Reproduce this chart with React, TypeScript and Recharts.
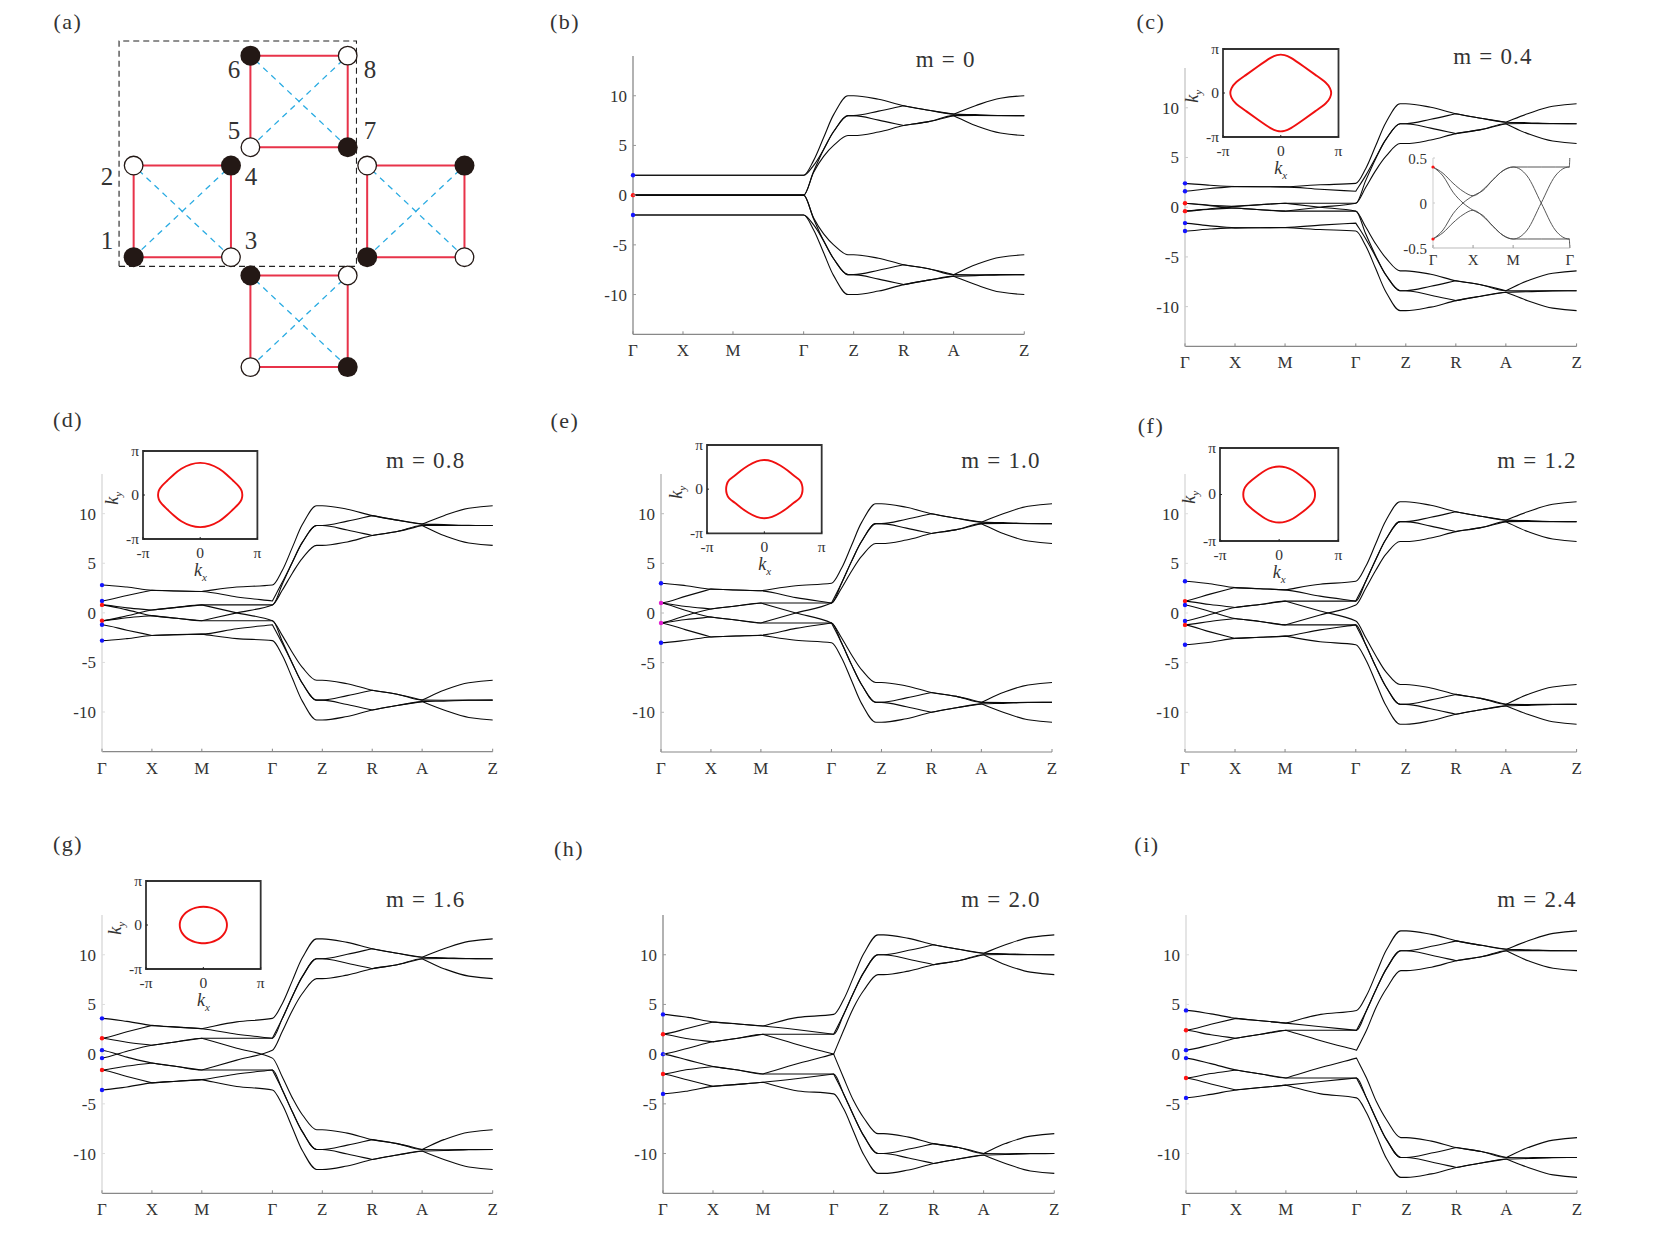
import React from "react";
import {
  ComposedChart,
  Line,
  XAxis,
  YAxis,
  ReferenceDot,
  ReferenceArea,
  ScatterChart,
  Scatter,
} from "recharts";

const FONT = '"Liberation Serif", serif';
const TEXT = "#333";
const BLUE = "#1414ff";
const RED = "#ff1414";
const MAGENTA = "#e020d0";

// high symmetry path
const pathTicks = [0, 1, 2, 3.414, 4.414, 5.414, 6.414, 7.828];
const pathLabels = ["Γ", "X", "M", "Γ", "Z", "R", "A", "Z"];
const energyTicks = [-10, -5, 0, 5, 10];

const kPath = [0, 0.5, 1, 1.5, 2, 2.7, 3.414, 3.614, 3.814, 4.014, 4.3, 4.414, 4.914, 5.414, 5.914, 6.414, 6.85, 7.35, 7.828];

const bandsB = [
  [2, 2, 2, 2, 2, 2, 2, 3.5, 5.8, 8.1, 10, 10, 9.65, 9, 8.55, 8.15, 9, 9.75, 10],
  [2, 2, 2, 2, 2, 2, 2, 3, 4.6, 6.4, 8, 8, 8.45, 9, 8.55, 8.15, 8.1, 8.02, 8],
  [0, 0, 0, 0, 0, 0, 0, 2.4, 4.6, 6.4, 8, 8, 7.55, 7, 7.4, 8, 8.02, 8, 8],
  [0, 0, 0, 0, 0, 0, 0, 2.3, 3.9, 5, 6, 6, 6.35, 7, 7.4, 8, 7, 6.25, 6],
  [0, 0, 0, 0, 0, 0, 0, -2.3, -3.9, -5, -6, -6, -6.35, -7, -7.4, -8, -7, -6.25, -6],
  [0, 0, 0, 0, 0, 0, 0, -2.4, -4.6, -6.4, -8, -8, -7.55, -7, -7.4, -8, -8.02, -8, -8],
  [-2, -2, -2, -2, -2, -2, -2, -3, -4.6, -6.4, -8, -8, -8.45, -9, -8.55, -8.15, -8.1, -8.02, -8],
  [-2, -2, -2, -2, -2, -2, -2, -3.5, -5.8, -8.1, -10, -10, -9.65, -9, -8.55, -8.15, -9, -9.75, -10],
];

const bandsC = [
  [2.4, 2.2, 2.08, 2.06, 2.04, 2.25, 2.4, 3.9, 6.2, 8.5, 10.4, 10.4, 10.05, 9.4, 8.95, 8.55, 9.4, 10.15, 10.4],
  [1.6, 1.88, 2.08, 2.06, 2.04, 1.8, 1.6, 3.2, 5, 6.8, 8.4, 8.4, 8.85, 9.4, 8.95, 8.55, 8.5, 8.42, 8.4],
  [0.4, 0.2, 0.08, 0.25, 0.4, 0.4, 0.4, 2.7, 4.9, 6.8, 8.4, 8.4, 7.95, 7.4, 7.8, 8.4, 8.42, 8.4, 8.4],
  [0.4, 0.15, -0.08, -0.25, -0.4, 0, 0.4, 2, 3.7, 5.1, 6.4, 6.4, 6.75, 7.4, 7.8, 8.4, 7.4, 6.65, 6.4],
  [-0.4, -0.15, 0.08, 0.25, 0.4, 0, -0.4, -2, -3.7, -5.1, -6.4, -6.4, -6.75, -7.4, -7.8, -8.4, -7.4, -6.65, -6.4],
  [-0.4, -0.2, -0.08, -0.25, -0.4, -0.4, -0.4, -2.7, -4.9, -6.8, -8.4, -8.4, -7.95, -7.4, -7.8, -8.4, -8.42, -8.4, -8.4],
  [-1.6, -1.88, -2.08, -2.06, -2.04, -1.8, -1.6, -3.2, -5, -6.8, -8.4, -8.4, -8.85, -9.4, -8.95, -8.55, -8.5, -8.42, -8.4],
  [-2.4, -2.2, -2.08, -2.06, -2.04, -2.25, -2.4, -3.9, -6.2, -8.5, -10.4, -10.4, -10.05, -9.4, -8.95, -8.55, -9.4, -10.15, -10.4],
];

const bandsD = [
  [2.8, 2.6, 2.28, 2.2, 2.15, 2.6, 2.8, 4.3, 6.6, 8.9, 10.8, 10.8, 10.45, 9.8, 9.35, 8.95, 9.8, 10.55, 10.8],
  [1.2, 1.75, 2.28, 2.2, 2.15, 1.6, 1.2, 3.1, 5.1, 7.1, 8.8, 8.8, 9.25, 9.8, 9.35, 8.95, 8.9, 8.82, 8.8],
  [0.8, 0.5, 0.28, 0.55, 0.8, 0.8, 0.8, 2.9, 5.1, 7.1, 8.8, 8.8, 8.35, 7.8, 8.2, 8.8, 8.82, 8.8, 8.8],
  [0.8, 0.3, -0.28, -0.55, -0.8, 0, 0.8, 2.3, 4, 5.5, 6.8, 6.8, 7.15, 7.8, 8.2, 8.8, 7.8, 7.05, 6.8],
  [-0.8, -0.3, 0.28, 0.55, 0.8, 0, -0.8, -2.3, -4, -5.5, -6.8, -6.8, -7.15, -7.8, -8.2, -8.8, -7.8, -7.05, -6.8],
  [-0.8, -0.5, -0.28, -0.55, -0.8, -0.8, -0.8, -2.9, -5.1, -7.1, -8.8, -8.8, -8.35, -7.8, -8.2, -8.8, -8.82, -8.8, -8.8],
  [-1.2, -1.75, -2.28, -2.2, -2.15, -1.6, -1.2, -3.1, -5.1, -7.1, -8.8, -8.8, -9.25, -9.8, -9.35, -8.95, -8.9, -8.82, -8.8],
  [-2.8, -2.6, -2.28, -2.2, -2.15, -2.6, -2.8, -4.3, -6.6, -8.9, -10.8, -10.8, -10.45, -9.8, -9.35, -8.95, -9.8, -10.55, -10.8],
];

const bandsE = [
  [3, 2.75, 2.41, 2.32, 2.24, 2.75, 3, 4.5, 6.8, 9.1, 11, 11, 10.65, 10, 9.55, 9.15, 10, 10.75, 11],
  [1, 1.7, 2.41, 2.32, 2.24, 1.55, 1, 3, 5.2, 7.2, 9, 9, 9.45, 10, 9.55, 9.15, 9.1, 9.02, 9],
  [1, 0.65, 0.41, 0.7, 1, 1, 1, 3, 5.2, 7.2, 9, 9, 8.55, 8, 8.4, 9, 9.02, 9, 9],
  [1, 0.25, -0.41, -0.7, -1, 0, 1, 2.5, 4.2, 5.7, 7, 7, 7.35, 8, 8.4, 9, 8, 7.25, 7],
  [-1, -0.25, 0.41, 0.7, 1, 0, -1, -2.5, -4.2, -5.7, -7, -7, -7.35, -8, -8.4, -9, -8, -7.25, -7],
  [-1, -0.65, -0.41, -0.7, -1, -1, -1, -3, -5.2, -7.2, -9, -9, -8.55, -8, -8.4, -9, -9.02, -9, -9],
  [-1, -1.7, -2.41, -2.32, -2.24, -1.55, -1, -3, -5.2, -7.2, -9, -9, -9.45, -10, -9.55, -9.15, -9.1, -9.02, -9],
  [-3, -2.75, -2.41, -2.32, -2.24, -2.75, -3, -4.5, -6.8, -9.1, -11, -11, -10.65, -10, -9.55, -9.15, -10, -10.75, -11],
];

const bandsF = [
  [3.2, 2.95, 2.56, 2.45, 2.33, 2.9, 3.2, 4.7, 7, 9.3, 11.2, 11.2, 10.85, 10.2, 9.75, 9.35, 10.2, 10.95, 11.2],
  [1.2, 1.9, 2.56, 2.45, 2.33, 1.7, 1.2, 3.2, 5.4, 7.4, 9.2, 9.2, 9.65, 10.2, 9.75, 9.35, 9.3, 9.22, 9.2],
  [1.2, 0.85, 0.56, 0.85, 1.2, 1.2, 1.2, 3.2, 5.4, 7.4, 9.2, 9.2, 8.75, 8.2, 8.6, 9.2, 9.22, 9.2, 9.2],
  [0.8, 0.15, -0.56, -0.85, -1.2, -0.2, 0.8, 2.5, 4.3, 5.9, 7.2, 7.2, 7.55, 8.2, 8.6, 9.2, 8.2, 7.45, 7.2],
  [-0.8, -0.15, 0.56, 0.85, 1.2, 0.2, -0.8, -2.5, -4.3, -5.9, -7.2, -7.2, -7.55, -8.2, -8.6, -9.2, -8.2, -7.45, -7.2],
  [-1.2, -0.85, -0.56, -0.85, -1.2, -1.2, -1.2, -3.2, -5.4, -7.4, -9.2, -9.2, -8.75, -8.2, -8.6, -9.2, -9.22, -9.2, -9.2],
  [-1.2, -1.9, -2.56, -2.45, -2.33, -1.7, -1.2, -3.2, -5.4, -7.4, -9.2, -9.2, -9.65, -10.2, -9.75, -9.35, -9.3, -9.22, -9.2],
  [-3.2, -2.95, -2.56, -2.45, -2.33, -2.9, -3.2, -4.7, -7, -9.3, -11.2, -11.2, -10.85, -10.2, -9.75, -9.35, -10.2, -10.95, -11.2],
];

const bandsG = [
  [3.6, 3.3, 2.89, 2.72, 2.56, 3.25, 3.6, 5.1, 7.4, 9.7, 11.6, 11.6, 11.25, 10.6, 10.15, 9.75, 10.6, 11.35, 11.6],
  [1.6, 2.25, 2.89, 2.72, 2.56, 2, 1.6, 3.6, 5.8, 7.8, 9.6, 9.6, 10.05, 10.6, 10.15, 9.75, 9.7, 9.62, 9.6],
  [1.6, 1.2, 0.89, 1.25, 1.6, 1.6, 1.6, 3.6, 5.8, 7.8, 9.6, 9.6, 9.15, 8.6, 9, 9.6, 9.62, 9.6, 9.6],
  [0.4, -0.3, -0.89, -1.25, -1.6, -0.6, 0.4, 2.3, 4.4, 6.1, 7.6, 7.6, 7.95, 8.6, 9, 9.6, 8.6, 7.85, 7.6],
  [-0.4, 0.3, 0.89, 1.25, 1.6, 0.6, -0.4, -2.3, -4.4, -6.1, -7.6, -7.6, -7.95, -8.6, -9, -9.6, -8.6, -7.85, -7.6],
  [-1.6, -1.2, -0.89, -1.25, -1.6, -1.6, -1.6, -3.6, -5.8, -7.8, -9.6, -9.6, -9.15, -8.6, -9, -9.6, -9.62, -9.6, -9.6],
  [-1.6, -2.25, -2.89, -2.72, -2.56, -2, -1.6, -3.6, -5.8, -7.8, -9.6, -9.6, -10.05, -10.6, -10.15, -9.75, -9.7, -9.62, -9.6],
  [-3.6, -3.3, -2.89, -2.72, -2.56, -3.25, -3.6, -5.1, -7.4, -9.7, -11.6, -11.6, -11.25, -10.6, -10.15, -9.75, -10.6, -11.35, -11.6],
];

const bandsH = [
  [4, 3.7, 3.24, 3.04, 2.83, 3.7, 4, 5.5, 7.8, 10.1, 12, 12, 11.65, 11, 10.55, 10.15, 11, 11.75, 12],
  [2, 2.6, 3.24, 3.04, 2.83, 2.45, 2, 4, 6.2, 8.2, 10, 10, 10.45, 11, 10.55, 10.15, 10.1, 10.02, 10],
  [2, 1.55, 1.24, 1.6, 2, 2, 2, 4, 6.2, 8.2, 10, 10, 9.55, 9, 9.4, 10, 10.02, 10, 10],
  [0, 0.6, 1.24, 1.6, 2, 0.95, 0, 2.4, 4.7, 6.4, 8, 8, 8.35, 9, 9.4, 10, 9, 8.25, 8],
  [0, -0.6, -1.24, -1.6, -2, -0.95, 0, -2.4, -4.7, -6.4, -8, -8, -8.35, -9, -9.4, -10, -9, -8.25, -8],
  [-2, -1.55, -1.24, -1.6, -2, -2, -2, -4, -6.2, -8.2, -10, -10, -9.55, -9, -9.4, -10, -10.02, -10, -10],
  [-2, -2.6, -3.24, -3.04, -2.83, -2.45, -2, -4, -6.2, -8.2, -10, -10, -10.45, -11, -10.55, -10.15, -10.1, -10.02, -10],
  [-4, -3.7, -3.24, -3.04, -2.83, -3.7, -4, -5.5, -7.8, -10.1, -12, -12, -11.65, -11, -10.55, -10.15, -11, -11.75, -12],
];

const bandsI = [
  [4.4, 4.05, 3.6, 3.36, 3.12, 4, 4.4, 5.9, 8.2, 10.5, 12.4, 12.4, 12.05, 11.4, 10.95, 10.55, 11.4, 12.15, 12.4],
  [2.4, 3, 3.6, 3.36, 3.12, 2.75, 2.4, 4.4, 6.6, 8.6, 10.4, 10.4, 10.85, 11.4, 10.95, 10.55, 10.5, 10.42, 10.4],
  [2.4, 1.95, 1.6, 2, 2.4, 2.4, 2.4, 4.4, 6.6, 8.6, 10.4, 10.4, 9.95, 9.4, 9.8, 10.4, 10.42, 10.4, 10.4],
  [0.4, 0.95, 1.6, 2, 2.4, 1.35, 0.4, 2.4, 4.8, 6.6, 8.4, 8.4, 8.75, 9.4, 9.8, 10.4, 9.4, 8.65, 8.4],
  [-0.4, -0.95, -1.6, -2, -2.4, -1.35, -0.4, -2.4, -4.8, -6.6, -8.4, -8.4, -8.75, -9.4, -9.8, -10.4, -9.4, -8.65, -8.4],
  [-2.4, -1.95, -1.6, -2, -2.4, -2.4, -2.4, -4.4, -6.6, -8.6, -10.4, -10.4, -9.95, -9.4, -9.8, -10.4, -10.42, -10.4, -10.4],
  [-2.4, -3, -3.6, -3.36, -3.12, -2.75, -2.4, -4.4, -6.6, -8.6, -10.4, -10.4, -10.85, -11.4, -10.95, -10.55, -10.5, -10.42, -10.4],
  [-4.4, -4.05, -3.6, -3.36, -3.12, -4, -4.4, -5.9, -8.2, -10.5, -12.4, -12.4, -12.05, -11.4, -10.95, -10.55, -11.4, -12.15, -12.4],
];

// gamma point markers
const dotsB = [[2, BLUE], [0, RED], [-2, BLUE]];
const dotsC = [[2.4, BLUE], [1.6, BLUE], [0.4, RED], [-0.4, RED], [-1.6, BLUE], [-2.4, BLUE]];
const dotsD = [[2.8, BLUE], [1.2, BLUE], [0.8, RED], [-0.8, RED], [-1.2, BLUE], [-2.8, BLUE]];
const dotsE = [[3, BLUE], [1, MAGENTA], [-1, MAGENTA], [-3, BLUE]];
const dotsF = [[3.2, BLUE], [1.2, RED], [0.8, BLUE], [-0.8, BLUE], [-1.2, RED], [-3.2, BLUE]];
const dotsG = [[3.6, BLUE], [1.6, RED], [0.4, BLUE], [-0.4, BLUE], [-1.6, RED], [-3.6, BLUE]];
const dotsH = [[4, BLUE], [2, RED], [0, BLUE], [-2, RED], [-4, BLUE]];
const dotsI = [[4.4, BLUE], [2.4, RED], [0.4, BLUE], [-0.4, BLUE], [-2.4, RED], [-4.4, BLUE]];

// zoom of panel c, low energy part
const zoomPath = [0, 0.25, 0.5, 0.75, 1, 1.25, 1.5, 1.75, 2, 2.35, 2.7, 3.05, 3.4, 3.414];
const zoomBands = [
  [0.4, 0.33, 0.22, 0.13, 0.08, 0.15, 0.26, 0.36, 0.4, 0.4, 0.4, 0.4, 0.4, 0.5],
  [0.4, 0.3, 0.12, 0, -0.08, -0.14, -0.26, -0.36, -0.4, -0.3, 0, 0.3, 0.4, 0.4],
  [-0.4, -0.3, -0.12, 0, 0.08, 0.14, 0.26, 0.36, 0.4, 0.3, 0, -0.3, -0.4, -0.4],
  [-0.4, -0.33, -0.22, -0.13, -0.08, -0.15, -0.26, -0.36, -0.4, -0.4, -0.4, -0.4, -0.4, -0.5],
];

// Fermi loops, in units of pi
const loopCx = [0.88, 0.86, 0.8, 0.6, 0.4, 0.15, 0.06, 0, -0.06, -0.15, -0.4, -0.6, -0.8, -0.86, -0.88, -0.86, -0.8, -0.6, -0.4, -0.15, -0.06, 0, 0.06, 0.15, 0.4, 0.6, 0.8, 0.86];
const loopCy = [0, 0.1, 0.23, 0.41, 0.6, 0.83, 0.865, 0.875, 0.865, 0.83, 0.6, 0.41, 0.23, 0.1, 0, -0.1, -0.23, -0.41, -0.6, -0.83, -0.865, -0.875, -0.865, -0.83, -0.6, -0.41, -0.23, -0.1];
const loopDx = [0.74, 0.73, 0.68, 0.58, 0.46, 0.34, 0.16, 0, -0.16, -0.34, -0.46, -0.58, -0.68, -0.73, -0.74, -0.73, -0.68, -0.58, -0.46, -0.34, -0.16, 0, 0.16, 0.34, 0.46, 0.58, 0.68, 0.73];
const loopDy = [0, 0.1, 0.2, 0.32, 0.47, 0.6, 0.71, 0.74, 0.71, 0.6, 0.47, 0.32, 0.2, 0.1, 0, -0.1, -0.2, -0.32, -0.47, -0.6, -0.71, -0.74, -0.71, -0.6, -0.47, -0.32, -0.2, -0.1];
const loopEx = [0.67, 0.66, 0.625, 0.51, 0.42, 0.28, 0.13, 0, -0.13, -0.28, -0.42, -0.51, -0.625, -0.66, -0.67, -0.66, -0.625, -0.51, -0.42, -0.28, -0.13, 0, 0.13, 0.28, 0.42, 0.51, 0.625, 0.66];
const loopEy = [0, 0.1, 0.21, 0.31, 0.41, 0.54, 0.64, 0.67, 0.64, 0.54, 0.41, 0.31, 0.21, 0.1, 0, -0.1, -0.21, -0.31, -0.41, -0.54, -0.64, -0.67, -0.64, -0.54, -0.41, -0.31, -0.21, -0.1];
const loopFx = [0.61, 0.6, 0.56, 0.46, 0.35, 0.23, 0.11, 0, -0.11, -0.23, -0.35, -0.46, -0.56, -0.6, -0.61, -0.6, -0.56, -0.46, -0.35, -0.23, -0.11, 0, 0.11, 0.23, 0.35, 0.46, 0.56, 0.6];
const loopFy = [0, 0.1, 0.2, 0.31, 0.42, 0.53, 0.59, 0.61, 0.59, 0.53, 0.42, 0.31, 0.2, 0.1, 0, -0.1, -0.2, -0.31, -0.42, -0.53, -0.59, -0.61, -0.59, -0.53, -0.42, -0.31, -0.2, -0.1];
const loopGx = [0.415, 0.405, 0.37, 0.31, 0.23, 0.14, 0.06, 0, -0.06, -0.14, -0.23, -0.31, -0.37, -0.405, -0.415, -0.405, -0.37, -0.31, -0.23, -0.14, -0.06, 0, 0.06, 0.14, 0.23, 0.31, 0.37, 0.405];
const loopGy = [0, 0.1, 0.19, 0.28, 0.35, 0.395, 0.412, 0.417, 0.412, 0.395, 0.35, 0.28, 0.19, 0.1, 0, -0.1, -0.19, -0.28, -0.35, -0.395, -0.412, -0.417, -0.412, -0.395, -0.35, -0.28, -0.19, -0.1];

// lattice of panel a, in site-spacing units
const plaquetteX = [0, 1.2, 2.4, 1.2];
const plaquetteY = [0, 1.2, 0, -1.2];
const plaquetteFilledFirst = [true, false, true, false];
const cellX = [-0.15, 2.29, 2.29, -0.15, -0.15];
const cellY = [-0.1, -0.1, 2.36, 2.36, -0.1];
const siteNumbers = [
  ["1", 107, 241], ["2", 107, 177], ["3", 251, 241], ["4", 251, 177],
  ["5", 234, 131], ["6", 234, 70], ["7", 370, 131], ["8", 370, 70],
];

const panelLetters = [
  ["(a)", 68, 22], ["(b)", 565, 22], ["(c)", 1151, 22], ["(d)", 68, 420],
  ["(e)", 565, 421], ["(f)", 1151, 426], ["(g)", 68, 844], ["(h)", 569, 849], ["(i)", 1147, 845],
];

const panels = [
  { left: 632.7, top: 56, width: 391.3, height: 278.3, bands: bandsB, dots: dotsB, title: "m = 0", tx: 945.7, ty: 60, yColor: "#999" },
  { left: 1185.4, top: 68.3, width: 391.6, height: 278.4, bands: bandsC, dots: dotsC, title: "m = 0.4", tx: 1493, ty: 57, yColor: "#ccc" },
  { left: 102, top: 474, width: 390.7, height: 277.7, bands: bandsD, dots: dotsD, title: "m = 0.8", tx: 425.7, ty: 460.7, yColor: "#ddd" },
  { left: 661, top: 473.5, width: 391, height: 278, bands: bandsE, dots: dotsE, title: "m = 1.0", tx: 1001, ty: 461, yColor: "#bbb" },
  { left: 1185.4, top: 473.5, width: 391.6, height: 278, bands: bandsF, dots: dotsF, title: "m = 1.2", tx: 1537, ty: 461, yColor: "#ddd" },
  { left: 102, top: 915, width: 390.7, height: 278.3, bands: bandsG, dots: dotsG, title: "m = 1.6", tx: 425.7, ty: 900, yColor: "#ddd" },
  { left: 663, top: 915, width: 391.3, height: 278.3, bands: bandsH, dots: dotsH, title: "m = 2.0", tx: 1001, ty: 900, yColor: "#999" },
  { left: 1185.7, top: 915, width: 391, height: 278.3, bands: bandsI, dots: dotsI, title: "m = 2.4", tx: 1537, ty: 900, yColor: "#ddd" },
];

const insets = [
  { left: 1223, top: 49.3, width: 115.5, height: 88, xs: loopCx, ys: loopCy },
  { left: 143.3, top: 451, width: 114.4, height: 88, xs: loopDx, ys: loopDy },
  { left: 707.3, top: 445, width: 114.7, height: 88.3, xs: loopEx, ys: loopEy },
  { left: 1220, top: 447.7, width: 118.3, height: 93, xs: loopFx, ys: loopFy },
  { left: 146, top: 881, width: 114.7, height: 88, xs: loopGx, ys: loopGy },
];

function toRows(xs, bands) {
  return xs.map((x, i) => {
    const row = { x };
    bands.forEach((band, b) => {
      row["b" + b] = band[i];
    });
    return row;
  });
}

// band crossings are sharp in the plots, monotone rounds them off, so keep the
// one-sided slopes at a turning point and smooth everything else
function creasedCurve(context) {
  let pts = [];
  const secant = (a, b) => (b[1] - a[1]) / (b[0] - a[0]);
  return {
    areaStart() {},
    areaEnd() {},
    lineStart() {
      pts = [];
    },
    point(x, y) {
      pts.push([+x, +y]);
    },
    lineEnd() {
      const n = pts.length;
      if (!n) return;
      context.moveTo(pts[0][0], pts[0][1]);
      for (let i = 0; i < n - 1; i++) {
        const a = pts[i];
        const b = pts[i + 1];
        const s = secant(a, b);
        let t0 = s * 0.5;
        let t1 = s * 0.5;
        if (i > 0) {
          const prev = secant(pts[i - 1], a);
          t0 = prev * s > 0 ? (2 * prev * s) / (prev + s) : prev * s < 0 ? s : 0;
        }
        if (i < n - 2) {
          const next = secant(b, pts[i + 2]);
          t1 = next * s > 0 ? (2 * next * s) / (next + s) : next * s < 0 ? s : 0;
        }
        const h = (b[0] - a[0]) / 3;
        context.bezierCurveTo(a[0] + h, a[1] + h * t0, b[0] - h, b[1] - h * t1, b[0], b[1]);
      }
    },
  };
}

function EnergyTick({ x, y, payload, color, size = 17, tickLen = 3 }) {
  return (
    <g>
      <line x1={x} x2={x + tickLen} y1={y} y2={y} stroke={color} />
      <text x={x - 6} y={y} dy={6} textAnchor="end" fontFamily={FONT} fontSize={size} fill={TEXT}>
        {payload.value}
      </text>
    </g>
  );
}

function PathTick({ x, y, index, labels = pathLabels, size = 17, color = "#888", gap = 22 }) {
  return (
    <g>
      <line x1={x} x2={x} y1={y} y2={y - 3} stroke={color} />
      <text x={x} y={y + gap} textAnchor="middle" fontFamily={FONT} fontSize={size} fill={TEXT}>
        {labels[index]}
      </text>
    </g>
  );
}

function BandPanel({ p }) {
  const rows = toRows(kPath, p.bands);
  return (
    <div style={{ position: "absolute", left: p.left - 45, top: p.top - 5 }}>
      <ComposedChart width={p.width + 70} height={p.height + 40} data={rows} margin={{ top: 5, right: 25, bottom: 0, left: 0 }}>
        <XAxis
          dataKey="x"
          type="number"
          domain={[0, 7.828]}
          ticks={pathTicks}
          interval={0}
          height={35}
          tickSize={0}
          tickMargin={0}
          tickLine={false}
          axisLine={{ stroke: "#888", strokeWidth: 1.2 }}
          tick={<PathTick />}
        />
        <YAxis
          type="number"
          domain={[-14, 14]}
          ticks={energyTicks}
          interval={0}
          width={45}
          tickSize={0}
          tickMargin={0}
          tickLine={false}
          axisLine={{ stroke: p.yColor, strokeWidth: 1.5 }}
          tick={<EnergyTick color={p.yColor} />}
        />
        {p.bands.map((_, b) => (
          <Line key={b} dataKey={"b" + b} type={creasedCurve} stroke="#0a0a0a" strokeWidth={1.1} dot={false} isAnimationActive={false} />
        ))}
        {p.dots.map(([v, c], i) => (
          <ReferenceDot key={i} x={0} y={v} r={2.2} fill={c} stroke="none" ifOverflow="visible" />
        ))}
      </ComposedChart>
    </div>
  );
}

function ZoomInset() {
  const rows = toRows(zoomPath, zoomBands);
  const labels = ["Γ", "X", "M", "Γ"];
  return (
    <div style={{ position: "absolute", left: 1433.2 - 40, top: 158.3 - 8 }}>
      <ComposedChart width={136.8 + 55} height={90 + 38} data={rows} margin={{ top: 8, right: 15, bottom: 0, left: 0 }}>
        <XAxis
          dataKey="x"
          type="number"
          domain={[0, 3.414]}
          ticks={[0, 1, 2, 3.414]}
          interval={0}
          height={30}
          tickSize={0}
          tickMargin={0}
          tickLine={false}
          axisLine={{ stroke: "#bbb" }}
          tick={<PathTick labels={labels} size={15} color="#999" gap={17} />}
        />
        <YAxis
          type="number"
          domain={[-0.5, 0.5]}
          ticks={[-0.5, 0, 0.5]}
          interval={0}
          width={40}
          tickSize={0}
          tickMargin={0}
          tickLine={false}
          axisLine={{ stroke: "#ccc" }}
          tick={<EnergyTick color="#ccc" size={15} tickLen={2} />}
        />
        {zoomBands.map((_, b) => (
          <Line key={b} dataKey={"b" + b} type="monotoneX" stroke="#444" strokeWidth={0.9} dot={false} isAnimationActive={false} />
        ))}
        <ReferenceDot x={0} y={0.4} r={1.6} fill={RED} stroke="none" ifOverflow="visible" />
        <ReferenceDot x={0} y={-0.4} r={1.6} fill={RED} stroke="none" ifOverflow="visible" />
      </ComposedChart>
    </div>
  );
}

function PiTickX({ x, y, payload }) {
  const label = payload.value === -1 ? "-π" : payload.value === 1 ? "π" : "0";
  return (
    <g>
      <line x1={x} x2={x} y1={y} y2={y - 2} stroke="#222" />
      <text x={x} y={y + 19} textAnchor="middle" fontFamily={FONT} fontSize={15.5} fill={TEXT}>
        {label}
      </text>
    </g>
  );
}

function PiTickY({ x, y, payload }) {
  const label = payload.value === -1 ? "-π" : payload.value === 1 ? "π" : "0";
  return (
    <g>
      <line x1={x} x2={x + 2} y1={y} y2={y} stroke="#222" />
      <text x={x - 4} y={y + 5} textAnchor="end" fontFamily={FONT} fontSize={15.5} fill={TEXT}>
        {label}
      </text>
    </g>
  );
}

function LoopInset({ p }) {
  const rows = p.xs.map((kx, i) => ({ kx, ky: p.ys[i] }));
  return (
    <>
      <div style={{ position: "absolute", left: p.left - 40, top: p.top - 8 }}>
        <ComposedChart width={p.width + 50} height={p.height + 38} data={rows} margin={{ top: 8, right: 10, bottom: 0, left: 0 }}>
          <XAxis
            dataKey="kx"
            type="number"
            domain={[-1, 1]}
            ticks={[-1, 0, 1]}
            interval={0}
            height={30}
            tickSize={0}
            tickMargin={0}
            tickLine={false}
            axisLine={false}
            tick={<PiTickX />}
          />
          <YAxis
            type="number"
            domain={[-1, 1]}
            ticks={[-1, 0, 1]}
            interval={0}
            width={40}
            tickSize={0}
            tickMargin={0}
            tickLine={false}
            axisLine={false}
            tick={<PiTickY />}
          />
          <ReferenceArea x1={-1} x2={1} y1={-1} y2={1} fill="none" stroke="#333" strokeWidth={1.8} ifOverflow="visible" />
          <Line dataKey="ky" type="basisClosed" stroke="#f01010" strokeWidth={1.9} dot={false} isAnimationActive={false} />
        </ComposedChart>
      </div>
      <div style={{ position: "absolute", left: p.left + p.width / 2 - 15, top: p.top + p.height + 22, width: 30, textAlign: "center", fontFamily: FONT, fontSize: 18, fontStyle: "italic", color: TEXT, lineHeight: "18px" }}>
        k<sub style={{ fontSize: 11 }}>x</sub>
      </div>
      <div style={{ position: "absolute", left: p.left - 43, top: p.top + p.height / 2 - 9, width: 30, textAlign: "center", fontFamily: FONT, fontSize: 18, fontStyle: "italic", color: TEXT, lineHeight: "18px", transform: "rotate(-90deg)" }}>
        k<sub style={{ fontSize: 11 }}>y</sub>
      </div>
    </>
  );
}

function NodeDot({ cx, cy, payload }) {
  return payload.filled ? (
    <circle cx={cx} cy={cy} r={10} fill="#231815" />
  ) : (
    <circle cx={cx} cy={cy} r={9.3} fill="#fff" stroke="#231815" strokeWidth={1.3} />
  );
}

const NoMark = () => null;

function LatticePanel() {
  const corners = plaquetteX.map((ox, i) => {
    const oy = plaquetteY[i];
    return [
      { x: ox, y: oy },
      { x: ox + 1, y: oy },
      { x: ox + 1, y: oy + 1 },
      { x: ox, y: oy + 1 },
    ];
  });
  const sites = corners.flatMap((c, i) =>
    c.map((s, j) => ({ ...s, filled: plaquetteFilledFirst[i] === (j % 2 === 0) }))
  );
  const cell = cellX.map((x, i) => ({ x, y: cellY[i] }));
  return (
    <div style={{ position: "absolute", left: 85.35, top: 19.1 }}>
      <ScatterChart width={418.4} height={375.6} margin={{ top: 0, right: 0, bottom: 0, left: 0 }}>
        <XAxis dataKey="x" type="number" domain={[-0.5, 3.8]} hide />
        <YAxis dataKey="y" type="number" domain={[-1.5, 2.6]} hide />
        <Scatter data={cell} shape={NoMark} line={{ stroke: "#222", strokeWidth: 1.1, strokeDasharray: "6 4" }} isAnimationActive={false} />
        {corners.map((c, i) => (
          <Scatter key={"a" + i} data={[c[0], c[2]]} shape={NoMark} line={{ stroke: "#29abe2", strokeWidth: 1.3, strokeDasharray: "6 5" }} isAnimationActive={false} />
        ))}
        {corners.map((c, i) => (
          <Scatter key={"b" + i} data={[c[1], c[3]]} shape={NoMark} line={{ stroke: "#29abe2", strokeWidth: 1.3, strokeDasharray: "6 5" }} isAnimationActive={false} />
        ))}
        {corners.map((c, i) => (
          <Scatter key={"c" + i} data={[...c, c[0]]} shape={NoMark} line={{ stroke: "#e8334a", strokeWidth: 2 }} isAnimationActive={false} />
        ))}
        <Scatter data={sites} shape={NodeDot} isAnimationActive={false} />
      </ScatterChart>
    </div>
  );
}

function Caption({ text, x, y, size, spacing = 0 }) {
  return (
    <div style={{ position: "absolute", left: x - 60, top: y - 20, width: 120, height: 40, lineHeight: "40px", textAlign: "center", fontFamily: FONT, fontSize: size, letterSpacing: spacing, color: TEXT, whiteSpace: "pre" }}>
      {text}
    </div>
  );
}

export default function App() {
  return (
    <div style={{ position: "absolute", left: 0, top: 0, width: 1661, height: 1246, background: "#fff", overflow: "hidden" }}>
      <LatticePanel />
      {siteNumbers.map(([t, x, y]) => (
        <Caption key={t} text={t} x={x} y={y} size={25} />
      ))}
      {panelLetters.map(([t, x, y]) => (
        <Caption key={t} text={t} x={x} y={y} size={22} spacing={1.5} />
      ))}
      {panels.map((p) => (
        <BandPanel key={p.title} p={p} />
      ))}
      {panels.map((p) => (
        <Caption key={p.title} text={p.title} x={p.tx} y={p.ty} size={23} spacing={1.2} />
      ))}
      {insets.map((p) => (
        <LoopInset key={p.left} p={p} />
      ))}
      <ZoomInset />
    </div>
  );
}
